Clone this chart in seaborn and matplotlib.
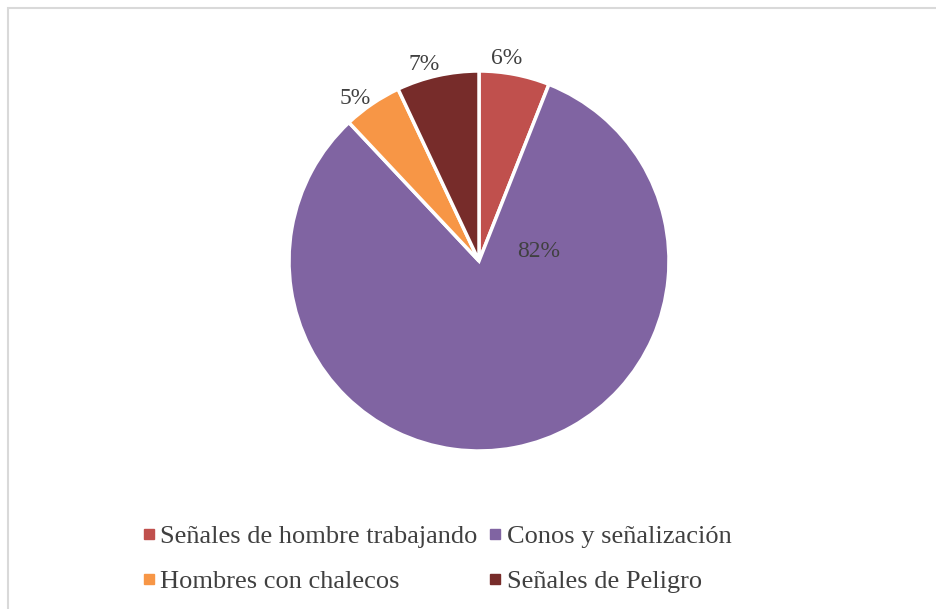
import numpy as np
import matplotlib
matplotlib.use("Agg")
import matplotlib.pyplot as plt
from matplotlib.lines import Line2D
from matplotlib.patches import Rectangle
import seaborn as sns

categories = ["Señales de hombre trabajando", "Conos y señalización",
              "Hombres con chalecos", "Señales de Peligro"]
values = [6, 82, 5, 7]
colors = ["#C0504D", "#8064A2", "#F79646", "#772C2A"]

sns.set_theme(style="white")
plt.rcParams["font.family"] = ["Liberation Serif", "DejaVu Serif"]
text_color = "#404040"

fig = plt.figure(figsize=(9.36, 6.09), dpi=100)
fig.patch.set_facecolor("white")

# chart-area frame (runs off the right and bottom edges)
fig.patches.append(Rectangle((8 / 936, -0.05), 1.2, 1 - 8 / 609 + 0.05,
                             transform=fig.transFigure, fill=False,
                             edgecolor="#D9D9D9", linewidth=1.5, zorder=0))

# pie centred at (479, 261) px with radius 190 px
r_px = 190
ax = fig.add_axes([(479 - r_px) / 936, (609 - 261 - r_px) / 609,
                   2 * r_px / 936, 2 * r_px / 609])
wedges, _ = ax.pie(values, colors=colors, startangle=90, counterclock=False,
                   wedgeprops=dict(edgecolor="white", linewidth=2.5))
ax.set_xlim(-1, 1)
ax.set_ylim(-1, 1)
ax.set_aspect("auto")
ax.axis("off")

total = sum(values)
for w, v in zip(wedges, values):
    mid = (w.theta1 + w.theta2) / 2
    if v / total > 0.5:
        # large slice: label sits just right of the centre
        ang, d = np.deg2rad(9), 0.32
    else:
        ang, d = np.deg2rad(mid + 3), 1.075
    ax.text(d * np.cos(ang), d * np.sin(ang), f"{v / total:.0%}",
            ha="center", va="center", fontsize=17, color=text_color,
            clip_on=False)

# legend filled row by row: two entries per row
order = [0, 2, 1, 3]
handles = [Line2D([], [], marker="s", linestyle="none", markersize=7,
                  markerfacecolor=colors[i], markeredgecolor=colors[i])
           for i in order]
labels = [categories[i] for i in order]
leg = fig.legend(handles, labels, ncol=2, loc="center",
                 bbox_to_anchor=(0.466, 1 - 559 / 609), frameon=False,
                 fontsize=19, handlelength=0.6, handletextpad=0.15,
                 columnspacing=0.35, labelspacing=0.8)
for t in leg.get_texts():
    t.set_color(text_color)

fig.savefig("out.png", dpi=100, facecolor="white")
